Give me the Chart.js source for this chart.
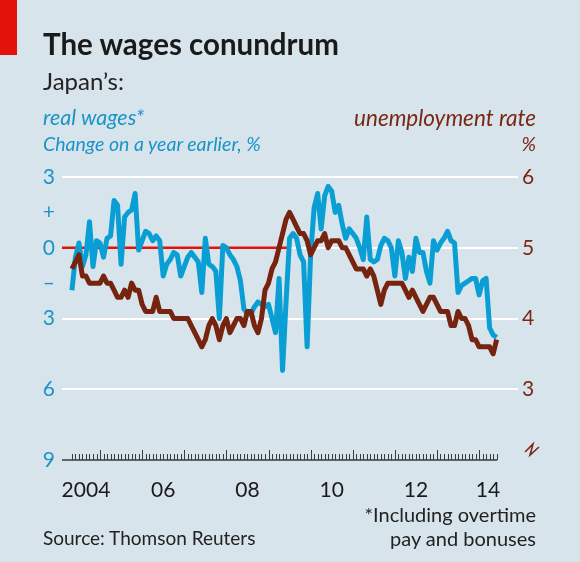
<!DOCTYPE html>
<html>
<head>
<meta charset="utf-8">
<script src="https://cdn.jsdelivr.net/npm/chart.js@4.4.1/dist/chart.umd.min.js"></script>
<style>
  html, body { margin: 0; padding: 0; background: #d8e4eb; }
  #wrap { position: relative; width: 580px; height: 562px; background: #d8e4eb; overflow: hidden; font-family: Lato, 'Open Sans', sans-serif; }
  #chart { position: absolute; left: 0; top: 0; }
  .txt { position: absolute; white-space: nowrap; line-height: 1; }
  #redbar { position: absolute; left: 0; top: 0; width: 17px; height: 55px; background: #e3120b; }
  #title { left: 43px; top: 29px; font-size: 29.5px; font-weight: 700; color: #1a1a1a; }
  #sub { left: 43px; top: 69px; font-size: 24px; color: #222; }
  #wlab { left: 43px; top: 107px; font-size: 21.5px; font-style: italic; color: #1a94c8; }
  #wunit { left: 43px; top: 134px; font-size: 19.5px; font-style: italic; color: #1a94c8; }
  #ulab { right: 44px; top: 107px; font-size: 22.5px; font-style: italic; color: #7a2816; }
  #uunit { right: 44px; top: 134px; font-size: 19.5px; font-style: italic; color: #7a2816; }
  #source { left: 43px; top: 528px; font-size: 19px; color: #222; }
  #note { right: 44px; top: 502px; font-size: 20px; color: #222; text-align: right; line-height: 24px; }
</style>
</head>
<body>
<div id="wrap">
  <canvas id="chart" width="580" height="562"></canvas>
  <div id="redbar"></div>
  <div class="txt" id="title">The wages conundrum</div>
  <div class="txt" id="sub">Japan’s:</div>
  <div class="txt" id="wlab">real wages*</div>
  <div class="txt" id="wunit">Change on a year earlier, %</div>
  <div class="txt" id="ulab">unemployment rate</div>
  <div class="txt" id="uunit">%</div>
  <div class="txt" id="source">Source: Thomson Reuters</div>
  <div class="txt" id="note">*Including overtime<br>pay and bonuses</div>
</div>
<script>
// First month of data: May 2004 (months counted from Jan 2004)
const startYear = 2004;
const startMonth = 4;

// Real wages, % change on a year earlier, monthly May 2004 - Jun 2014
const realWages = [
  -1.8, -0.4, 0.2, -0.8, -0.3, 1.1, -0.8, 0.3,
  0.2, -0.4, 0.4, 0.5, 2.0, 1.8, -0.7, 1.3, 1.5, 1.6, 2.3, -0.1,
  0.3, 0.7, 0.6, 0.3, 0.5, 0.3, -1.2, -0.7, -0.5, -0.2, -0.3, -1.2,
  -0.8, -0.4, -0.2, -0.4, -0.6, -1.9, 0.4, -0.7, -0.8, -1.0, -3.0, 0.1,
  0.0, -0.3, -0.5, -0.8, -1.4, -2.6, -2.8, -2.8, -2.5, -2.3, -2.4, -2.5,
  -2.4, -3.0, -3.6, -1.3, -5.2, -2.3, 0.4, 0.6, 0.4, -0.3, -0.6, -4.2,
  -0.3, 1.7, 2.3, 0.8, 2.2, 2.6, 2.4, 1.5, 1.8, 1.0, 0.4, 0.8,
  0.6, 0.4, 0.0, -0.5, 1.3, -0.5, -0.6, -0.5, 0.1, 0.4, 0.3, 0.0,
  -1.2, 0.3, -0.2, -1.3, -0.4, -1.0, 0.4, -0.2, -0.2, -1.0, -1.5, 0.3,
  -0.1, 0.2, 0.4, 0.7, 0.3, 0.2, -1.9, -1.6, -1.5, -1.4, -1.3, -1.3,
  -2.0, -1.4, -1.3, -3.4, -3.7, -3.8
];

// Unemployment rate, %, same months
const unemployment = [
  4.7, 4.8, 4.9, 4.6, 4.6, 4.5, 4.5, 4.5,
  4.5, 4.6, 4.5, 4.5, 4.4, 4.3, 4.3, 4.4, 4.3, 4.5, 4.4, 4.4,
  4.2, 4.1, 4.1, 4.1, 4.3, 4.1, 4.1, 4.1, 4.1, 4.0, 4.0, 4.0,
  4.0, 4.0, 3.9, 3.8, 3.7, 3.6, 3.7, 3.9, 4.0, 3.9, 3.7, 3.9,
  4.0, 3.8, 3.9, 4.0, 4.0, 3.9, 4.1, 4.1, 3.9, 3.8, 4.0, 4.4,
  4.5, 4.7, 4.8, 5.0, 5.2, 5.4, 5.5, 5.4, 5.3, 5.2, 5.2, 5.1,
  4.9, 5.0, 5.1, 5.1, 5.2, 5.0, 5.1, 5.1, 5.1, 5.0, 5.0, 4.9,
  4.8, 4.7, 4.7, 4.7, 4.6, 4.7, 4.6, 4.4, 4.2, 4.4, 4.5, 4.5,
  4.5, 4.5, 4.5, 4.4, 4.3, 4.4, 4.3, 4.2, 4.1, 4.2, 4.3, 4.3,
  4.2, 4.1, 4.1, 4.1, 3.9, 3.9, 4.1, 4.0, 4.0, 3.9, 3.7, 3.7,
  3.6, 3.6, 3.6, 3.6, 3.5, 3.7
];

const yearLabels = ['2004', '06', '08', '10', '12', '14'];
const wageTicks = [3, 1.5, 0, -1.5, -3, -6, -9];
const wageTickLabels = ['3', '+', '0', '–', '3', '6', '9'];
const unempTicks = [6, 5, 4, 3];

const BLUE = '#0a9fd4';
const BLUE_TEXT = '#1a94c8';
const BROWN = '#76230f';
const BROWN_TEXT = '#7a2816';
const RED = '#e3120b';

const firstIdx = startMonth;
const lastIdx = startMonth + realWages.length - 1;

const wagePoints = realWages.map((v, i) => ({ x: firstIdx + i, y: v }));
const unempPoints = unemployment.map((v, i) => ({ x: firstIdx + i, y: v }));

// Year labels sit in the middle of each year's run of monthly ticks
const yearLabelPos = yearLabels.map((_, i) => {
  const jan = i * 2 * 12;
  const from = Math.max(jan, firstIdx);
  const to = Math.min(jan + 12, lastIdx);
  return (from + to) / 2;
});

const decorPlugin = {
  id: 'decor',
  beforeDatasetsDraw(chart) {
    const { ctx, chartArea, scales } = chart;
    // red zero line on the left part of the plot
    const y0 = scales.yL.getPixelForValue(0);
    const xEnd = scales.x.getPixelForValue(66.1);
    ctx.save();
    ctx.strokeStyle = RED;
    ctx.lineWidth = 2.5;
    ctx.beginPath();
    ctx.moveTo(chartArea.left, y0);
    ctx.lineTo(xEnd, y0);
    ctx.stroke();
    ctx.restore();
  },
  afterDraw(chart) {
    const { ctx, chartArea, scales } = chart;
    const x = scales.x;
    const yBase = scales.yL.getPixelForValue(-9);
    ctx.save();
    // bottom axis line
    ctx.strokeStyle = '#3a3a3a';
    ctx.lineWidth = 1.6;
    ctx.beginPath();
    ctx.moveTo(chartArea.left, yBase);
    ctx.lineTo(x.getPixelForValue(lastIdx) + 0.5, yBase);
    ctx.stroke();
    // monthly ticks, taller for January
    ctx.lineWidth = 1;
    ctx.beginPath();
    for (let m = firstIdx; m <= lastIdx; m++) {
      const px = Math.round(x.getPixelForValue(m)) + 0.5;
      const h = m % 12 === 0 ? 10 : 6;
      ctx.moveTo(px, yBase);
      ctx.lineTo(px, yBase - h);
    }
    ctx.stroke();
    // axis break symbol on the right scale
    const bx = chartArea.right + 7;
    const by = yBase - 15;
    ctx.strokeStyle = BROWN_TEXT;
    ctx.lineWidth = 1.6;
    ctx.lineJoin = 'miter';
    ctx.beginPath();
    ctx.moveTo(bx, by + 7);
    ctx.lineTo(bx + 8, by - 1);
    ctx.lineTo(bx + 5, by + 10);
    ctx.lineTo(bx + 14, by + 2);
    ctx.stroke();
    ctx.restore();
  }
};

new Chart(document.getElementById('chart'), {
  type: 'line',
  data: {
    datasets: [
      {
        label: 'Unemployment rate',
        data: unempPoints,
        yAxisID: 'yR',
        borderColor: BROWN,
        borderWidth: 5,
        pointRadius: 0,
        tension: 0,
        borderJoinStyle: 'round',
        borderCapStyle: 'butt',
      },
      {
        label: 'Real wages',
        data: wagePoints,
        yAxisID: 'yL',
        borderColor: BLUE,
        borderWidth: 5,
        pointRadius: 0,
        tension: 0,
        borderJoinStyle: 'round',
        borderCapStyle: 'butt',
      },
    ],
  },
  options: {
    responsive: false,
    animation: false,
    events: [],
    layout: { padding: { top: 177, left: 0, right: 0, bottom: 0 } },
    plugins: {
      legend: { display: false },
      tooltip: { enabled: false },
      title: { display: false },
    },
    scales: {
      x: {
        type: 'linear',
        min: 1.17,
        max: 131.08,
        position: 'bottom',
        grid: { display: false, drawTicks: false },
        border: { display: false },
        afterFit(scale) { scale.height = 102; },
        afterBuildTicks(scale) {
          scale.ticks = yearLabelPos.map(v => ({ value: v }));
        },
        ticks: {
          autoSkip: false,
          maxRotation: 0,
          minRotation: 0,
          padding: 18,
          color: '#1a1a1a',
          font: { family: 'Lato', size: 21 },
          callback: (value, index) => yearLabels[index],
        },
      },
      yL: {
        type: 'linear',
        position: 'left',
        min: -9,
        max: 3,
        afterFit(scale) { scale.width = 62; },
        afterBuildTicks(scale) {
          scale.ticks = wageTicks.map(v => ({ value: v }));
        },
        grid: {
          drawTicks: false,
          lineWidth: 2,
          color: (ctx) => {
            const v = ctx.tick ? ctx.tick.value : null;
            return (v === 3 || v === 0 || v === -3 || v === -6) ? '#ffffff' : 'rgba(0,0,0,0)';
          },
        },
        border: { display: false },
        ticks: {
          crossAlign: 'center',
          padding: 7,
          color: BLUE_TEXT,
          font: { family: 'Lato', size: 21 },
          callback: (value, index) => wageTickLabels[index],
        },
      },
      yR: {
        type: 'linear',
        position: 'right',
        min: 2,
        max: 6,
        afterFit(scale) { scale.width = 62; },
        afterBuildTicks(scale) {
          scale.ticks = unempTicks.map(v => ({ value: v }));
        },
        grid: { display: false, drawTicks: false },
        border: { display: false },
        ticks: {
          padding: 4,
          color: BROWN_TEXT,
          font: { family: 'Lato', size: 21 },
          callback: (value) => String(value),
        },
      },
    },
  },
  plugins: [decorPlugin],
});
</script>
</body>
</html>
